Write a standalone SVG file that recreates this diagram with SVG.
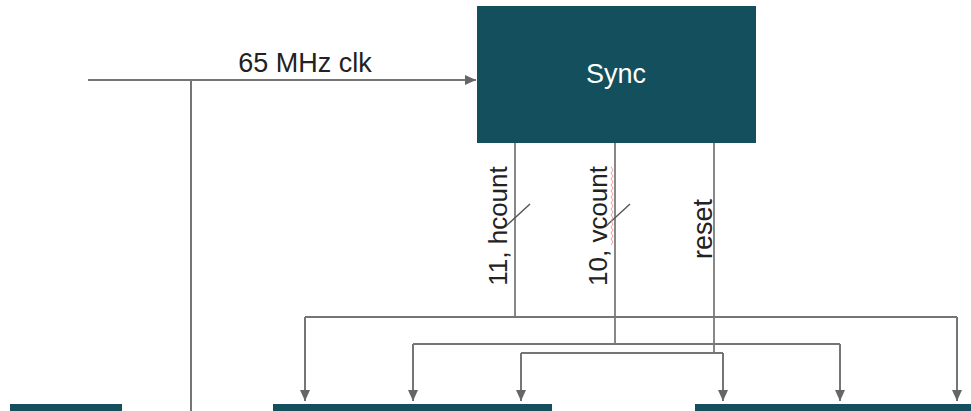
<svg xmlns="http://www.w3.org/2000/svg" width="971" height="411" viewBox="0 0 971 411">
<style>
.box{fill:#134f5c;}
.wire{fill:none;stroke:#757575;stroke-width:2;}
.bus{fill:none;stroke:#555;stroke-width:1.4;}
.lbl{font-family:"Liberation Sans",Arial,sans-serif;font-size:27px;fill:#222;}
.title{font-family:"Liberation Sans",Arial,sans-serif;font-size:27px;fill:#ffffff;text-anchor:middle;}
</style>
<defs>
<marker id="arr" markerUnits="userSpaceOnUse" markerWidth="12" markerHeight="12" viewBox="0 0 12 12" refX="11" refY="6" orient="auto">
<path d="M0,1 L11,6 L0,11 Z" fill="#666"/>
</marker>
</defs>
<rect width="971" height="411" fill="#ffffff"/>
<g id="sync">
<rect class="box" x="477" y="6" width="279" height="137"/>
<text class="title" x="616" y="83">Sync</text>
</g>
<g id="block-left">
<rect class="box" x="10" y="404" width="112" height="10"/>
</g>
<g id="block-mid">
<rect class="box" x="273" y="404" width="279" height="10"/>
</g>
<g id="block-right">
<rect class="box" x="695" y="404" width="280" height="10"/>
</g>
<g id="connectors">
<path class="wire" d="M88,80 H476" marker-end="url(#arr)"/>
<path class="wire" d="M191,80 V411"/>
<text class="lbl" x="305" y="72" text-anchor="middle">65 MHz clk</text>
<path class="bus" d="M515,143 V317"/>
<path class="bus" d="M615,143 V344"/>
<path class="bus" d="M714,143 V354"/>
<path class="bus" d="M505,227 L530,204"/>
<path class="bus" d="M605,227 L630,204"/>
<path d="M611,167 l2,3 l-2,3 l2,3 l-2,3 l2,3 l-2,3 l2,3 l-2,3 l2,3 l-2,3 l2,3 l-2,3 l2,3 l-2,3 l2,3 l-2,3 l2,3 l-2,3 l2,3 l-2,3 l2,3 l-2,3 l2,3 l-2,3 l2,3 l-2,3" fill="none" stroke="#f08080" stroke-width="0.8"/>
<text class="lbl" font-size="26" text-anchor="middle" transform="translate(506.5,226) rotate(-90)" style="font-size:26px">11, hcount</text>
<text class="lbl" text-anchor="middle" transform="translate(606.5,226) rotate(-90)" style="font-size:26px">10, vcount</text>
<text class="lbl" text-anchor="middle" transform="translate(711.5,229) rotate(-90)">reset</text>
<path class="wire" d="M305,317 H957"/>
<path class="wire" d="M305,317 V401" marker-end="url(#arr)"/>
<path class="wire" d="M957,317 V401" marker-end="url(#arr)"/>
<path class="wire" d="M413,344 H840"/>
<path class="wire" d="M413,344 V401" marker-end="url(#arr)"/>
<path class="wire" d="M840,344 V401" marker-end="url(#arr)"/>
<path class="wire" d="M521,353 H723"/>
<path class="wire" d="M521,353 V401" marker-end="url(#arr)"/>
<path class="wire" d="M723,353 V401" marker-end="url(#arr)"/>
</g>
</svg>
